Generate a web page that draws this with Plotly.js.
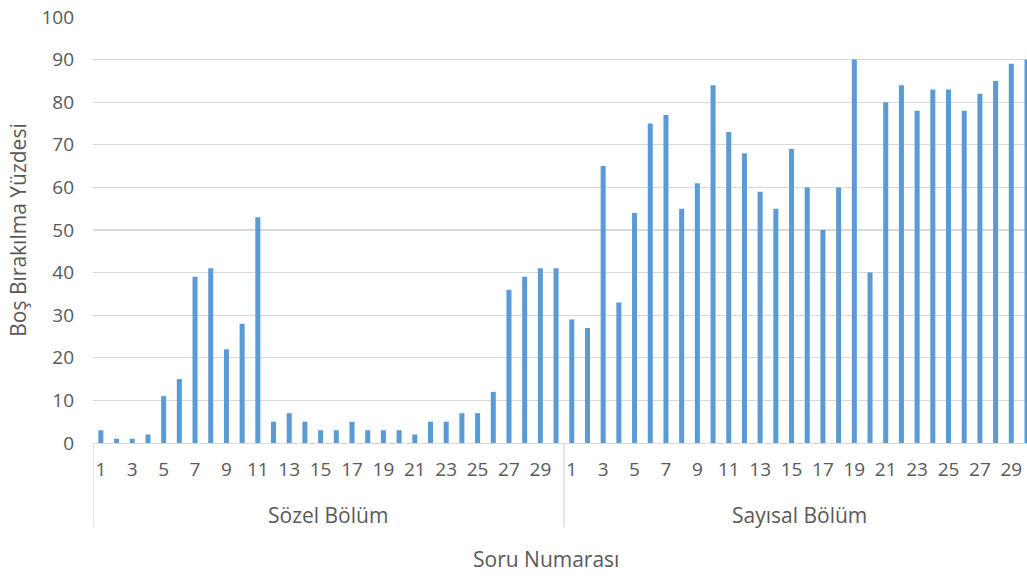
<!DOCTYPE html>
<html>
<head>
<meta charset="utf-8">
<script src="https://cdn.plot.ly/plotly-3.0.1.min.js"></script>
<style>html,body{margin:0;padding:0;background:#fff;}#chart{width:1027px;height:576px;}</style>
</head>
<body>
<div id="chart"></div>
<script>
// Data
const groups = ["Sözel Bölüm", "Sayısal Bölüm"];
const questionNumbers = Array.from({length: 30}, (_, i) => i + 1);
const sozelValues = [3, 1, 1, 2, 11, 15, 39, 41, 22, 28, 53, 5, 7, 5, 3, 3, 5, 3, 3, 3, 2, 5, 5, 7, 7, 12, 36, 39, 41, 41];
const sayisalValues = [29, 27, 65, 33, 54, 75, 77, 55, 61, 84, 73, 68, 59, 55, 69, 60, 50, 60, 90, 40, 80, 84, 78, 83, 83, 78, 82, 85, 89, 90];
const yTitle = "Boş Bırakılma Yüzdesi";
const xTitle = "Soru Numarası";

const allValues = sozelValues.concat(sayisalValues);
const xIdx = allValues.map((_, i) => i);
const labels = questionNumbers.concat(questionNumbers);
const tickvals = [], ticktext = [];
labels.forEach((q, i) => { if (q % 2 === 1) { tickvals.push(i); ticktext.push(String(q)); } });

const n = questionNumbers.length;
const txtColor = "#595959";
const fontFam = "'Open Sans', Lato, sans-serif";
const labelSize = 21;

const trace = {
  type: "bar",
  x: xIdx,
  y: allValues,
  marker: {color: "#5B9BD5", line: {width: 0}},
  hoverinfo: "y"
};

const shapes = [];
[-0.5, n - 0.5].forEach(xv => {
  shapes.push({type: "line", xref: "x", yref: "paper", x0: xv, x1: xv, y0: 0, y1: -0.198,
    line: {color: "#d9d9d9", width: 1.3}});
});

const annotations = [
  {text: groups[0], xref: "x", yref: "paper", x: (n - 1) / 2, y: -0.168, showarrow: false,
   font: {family: fontFam, size: labelSize, color: txtColor}, yanchor: "middle"},
  {text: groups[1], xref: "x", yref: "paper", x: n + (n - 1) / 2, y: -0.168, showarrow: false,
   font: {family: fontFam, size: labelSize, color: txtColor}, yanchor: "middle"},
  {text: xTitle, xref: "paper", yref: "paper", x: 0.485, y: -0.273, showarrow: false,
   font: {family: fontFam, size: labelSize, color: txtColor}, yanchor: "middle"}
];

const layout = {
  width: 1027, height: 576,
  margin: {l: 93, r: 0, t: 17, b: 133},
  paper_bgcolor: "#fff", plot_bgcolor: "#fff",
  showlegend: false,
  bargap: 0.68,
  font: {family: fontFam, color: txtColor, size: 19},
  xaxis: {
    range: [-0.5, 59.0],
    tickmode: "array", tickvals: tickvals, ticktext: ticktext,
    showgrid: false, zeroline: false,
    showline: true, linecolor: "#d9d9d9", linewidth: 1.3,
    ticks: "", ticklabelstandoff: 9,
    tickfont: {family: fontFam, size: 19, color: txtColor},
    fixedrange: true
  },
  yaxis: {
    range: [0, 100], dtick: 10,
    showgrid: true, gridcolor: "#d9d9d9", gridwidth: 1.3,
    zeroline: false, showline: false,
    ticks: "", ticklabelstandoff: 18,
    tickfont: {family: fontFam, size: 19, color: txtColor},
    title: {text: yTitle, font: {family: fontFam, size: labelSize, color: txtColor}, standoff: 9},
    fixedrange: true
  },
  shapes: shapes,
  annotations: annotations
};

Plotly.newPlot("chart", [trace], layout, {displayModeBar: false, staticPlot: true});
</script>
</body>
</html>
